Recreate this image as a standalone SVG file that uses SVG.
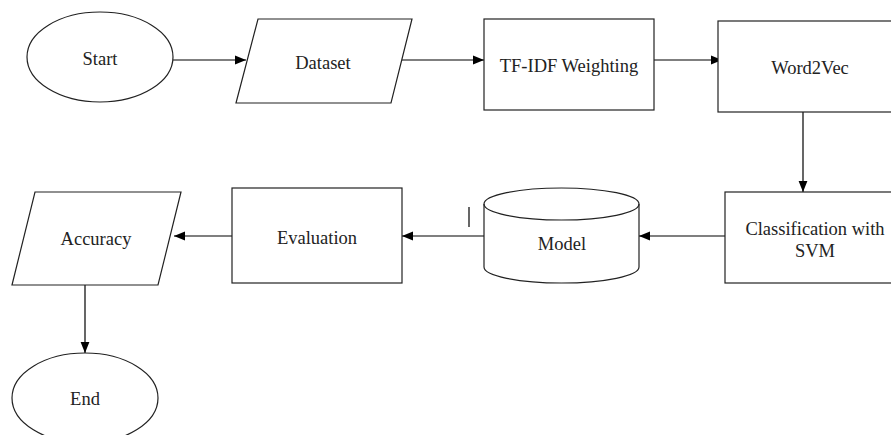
<svg xmlns="http://www.w3.org/2000/svg" width="891" height="435" viewBox="0 0 891 435">
<defs>
<style>
.shape{fill:#fff;stroke:#222;stroke-width:1.2}
.conn{fill:none;stroke:#000;stroke-width:1.2}
text{font-family:'Liberation Serif','Times New Roman',Times,serif;font-size:18.5px;fill:#222;text-anchor:middle}
</style>
<marker id="ah" viewBox="0 0 10 10" refX="10" refY="5" markerWidth="11" markerHeight="11" markerUnits="userSpaceOnUse" orient="auto">
<path d="M0,1 L10,5 L0,9 Z" fill="#000"/>
</marker>
</defs>
<rect width="891" height="435" fill="#fff"/>
<g id="connectors">
<line class="conn" x1="173" y1="60" x2="246" y2="60" marker-end="url(#ah)"/>
<line class="conn" x1="402" y1="60" x2="484" y2="60" marker-end="url(#ah)"/>
<line class="conn" x1="654" y1="60" x2="722" y2="60" marker-end="url(#ah)"/>
<line class="conn" x1="803" y1="112" x2="803" y2="192" marker-end="url(#ah)"/>
<line class="conn" x1="725" y1="236" x2="639" y2="236" marker-end="url(#ah)"/>
<line class="conn" x1="484" y1="236" x2="402" y2="236" marker-end="url(#ah)"/>
<line class="conn" x1="469" y1="207" x2="469" y2="227"/>
<line class="conn" x1="232" y1="236" x2="174" y2="236" marker-end="url(#ah)"/>
<line class="conn" x1="85" y1="285" x2="85" y2="353" marker-end="url(#ah)"/>
</g>
<g id="start">
<ellipse class="shape" cx="100" cy="57" rx="73" ry="45"/>
<text x="100" y="65">Start</text>
</g>
<g id="dataset">
<polygon class="shape" points="258,19 412,19 391,103 236,103"/>
<text x="323" y="69">Dataset</text>
</g>
<g id="tfidf">
<rect class="shape" x="484" y="19" width="170" height="91"/>
<text x="569" y="72">TF-IDF Weighting</text>
</g>
<g id="word2vec">
<rect class="shape" x="718" y="21" width="190" height="91"/>
<text x="810" y="74">Word2Vec</text>
</g>
<g id="classification">
<rect class="shape" x="725" y="192" width="190" height="91"/>
<text x="815" y="235">Classification with</text>
<text x="815" y="257">SVM</text>
</g>
<g id="model">
<path class="shape" d="M484,204 L484,267 A77.5,16 0 0 0 639,267 L639,204 A77.5,16 0 0 0 484,204 Z"/>
<path class="shape" style="fill:none" d="M484,204 A77.5,16 0 0 0 639,204"/>
<text x="562" y="250">Model</text>
</g>
<g id="evaluation">
<rect class="shape" x="232" y="188" width="170" height="95"/>
<text x="317" y="244">Evaluation</text>
</g>
<g id="accuracy">
<polygon class="shape" points="35,192 181,192 158,285 12,285"/>
<text x="96" y="245">Accuracy</text>
</g>
<g id="end">
<ellipse class="shape" cx="85" cy="398" rx="73" ry="45"/>
<text x="85" y="405">End</text>
</g>
</svg>
